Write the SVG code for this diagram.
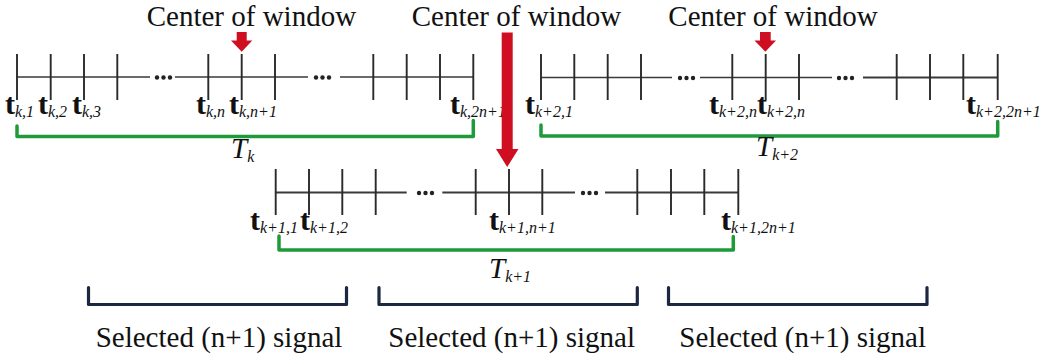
<svg xmlns="http://www.w3.org/2000/svg" width="1041" height="359" viewBox="0 0 1041 359">
  <style>
    .title { font-family: "Liberation Serif", "DejaVu Serif", serif; font-size: 29px; fill: #111; }
    .lab { font-family: "Liberation Serif", "DejaVu Serif", serif; fill: #111; }
    .tb { font-size: 30px; font-weight: bold; }
    .sub { font-size: 16px; font-style: italic; }
    .big { font-size: 29px; font-style: italic; }
    .axis { stroke: #3a3a3a; stroke-width: 1.6; fill: none; }
    .tick { stroke: #2a2a2a; stroke-width: 1.9; fill: none; }
    .dots { fill: #222; }
    .span { stroke: #1f9a38; stroke-width: 3.5; fill: none; stroke-linejoin: round; stroke-linecap: round; }
    .sel { stroke: #1c2742; stroke-width: 3.2; fill: none; stroke-linejoin: round; stroke-linecap: round; }
    .marker { fill: #cf0e22; }
  </style>

  <!-- Window T_k -->
  <g id="window-k">
    <path class="axis" d="M17,77 H150 M175,77 H308 M340,77 H473"/>
    <path class="tick" d="M17,54 V100 M50.7,54 V100 M84,54 V100 M117.3,54 V100 M208.3,54 V100 M241.7,54 V100 M275,54 V100 M373.3,54 V100 M406.7,54 V100 M440,54 V100 M473.3,54 V100"/>
    <g class="dots">
      <circle cx="157" cy="77.5" r="2.2"/><circle cx="163.5" cy="77.5" r="2.2"/><circle cx="170" cy="77.5" r="2.2"/>
      <circle cx="316" cy="77.5" r="2.2"/><circle cx="322.5" cy="77.5" r="2.2"/><circle cx="329" cy="77.5" r="2.2"/>
    </g>
    <text class="lab" x="5" y="114"><tspan class="tb">t</tspan><tspan class="sub" dy="3">k,1</tspan></text>
    <text class="lab" x="38" y="114"><tspan class="tb">t</tspan><tspan class="sub" dy="3">k,2</tspan></text>
    <text class="lab" x="72" y="114"><tspan class="tb">t</tspan><tspan class="sub" dy="3">k,3</tspan></text>
    <text class="lab" x="196" y="114"><tspan class="tb">t</tspan><tspan class="sub" dy="3">k,n</tspan></text>
    <text class="lab" x="229" y="114"><tspan class="tb">t</tspan><tspan class="sub" dy="3">k,n+1</tspan></text>
    <text class="lab" x="450" y="114"><tspan class="tb">t</tspan><tspan class="sub" dy="3">k,2n+1</tspan></text>
    <path class="span" d="M17,126 V136.5 H473.3 V120.5"/>
    <text class="lab" x="231" y="158"><tspan class="big">T</tspan><tspan class="sub" dy="4">k</tspan></text>
  </g>

  <!-- Window T_k+2 -->
  <g id="window-k2">
    <path class="axis" d="M541,77.5 H672 M700,77.5 H832"/>
    <path class="axis" style="stroke-width:2.2" d="M863,77.5 H997.7"/>
    <path class="tick" d="M541,54 V100 M574.3,54 V100 M607.7,54 V100 M641,54 V100 M732.3,54 V100 M765.7,54 V100 M799,54 V100 M896.7,54 V100 M930,54 V100 M963.3,54 V100 M997.7,54 V100"/>
    <g class="dots">
      <circle cx="680" cy="78" r="2.2"/><circle cx="686.5" cy="78" r="2.2"/><circle cx="693" cy="78" r="2.2"/>
      <circle cx="839" cy="78" r="2.2"/><circle cx="845.5" cy="78" r="2.2"/><circle cx="852" cy="78" r="2.2"/>
    </g>
    <text class="lab" x="525" y="114"><tspan class="tb">t</tspan><tspan class="sub" dy="3">k+2,1</tspan></text>
    <text class="lab" x="709" y="114"><tspan class="tb">t</tspan><tspan class="sub" dy="3">k+2,n</tspan></text>
    <text class="lab" x="757" y="114"><tspan class="tb">t</tspan><tspan class="sub" dy="3">k+2,n</tspan></text>
    <text class="lab" x="966" y="114"><tspan class="tb">t</tspan><tspan class="sub" dy="3">k+2,2n+1</tspan></text>
    <path class="span" d="M541,125 V136 H997.7 V121.5"/>
    <text class="lab" x="756" y="156"><tspan class="big">T</tspan><tspan class="sub" dy="4">k+2</tspan></text>
  </g>

  <!-- Window T_k+1 -->
  <g id="window-k1">
    <path class="axis" style="stroke-width:2" d="M275.7,192.5 H406.7 M442.3,192.5 H575 M605,192.5 H738.3"/>
    <path class="tick" d="M275.7,169 V215 M309,169 V215 M342.3,169 V215 M375.7,169 V215 M475.7,169 V215 M509,169 V215 M542.3,169 V215 M637.3,169 V215 M671,169 V215 M704.3,169 V215 M738.3,169 V215"/>
    <g class="dots">
      <circle cx="419" cy="193" r="2.2"/><circle cx="425.5" cy="193" r="2.2"/><circle cx="432" cy="193" r="2.2"/>
      <circle cx="583" cy="193" r="2.2"/><circle cx="589.5" cy="193" r="2.2"/><circle cx="596" cy="193" r="2.2"/>
    </g>
    <text class="lab" x="250" y="230"><tspan class="tb">t</tspan><tspan class="sub" dy="3">k+1,1</tspan></text>
    <text class="lab" x="300" y="230"><tspan class="tb">t</tspan><tspan class="sub" dy="3">k+1,2</tspan></text>
    <text class="lab" x="489" y="230"><tspan class="tb">t</tspan><tspan class="sub" dy="3">k+1,n+1</tspan></text>
    <text class="lab" x="721" y="230"><tspan class="tb">t</tspan><tspan class="sub" dy="3">k+1,2n+1</tspan></text>
    <path class="span" d="M279,236 V250 H733.3 V236.5"/>
    <text class="lab" x="489" y="278"><tspan class="big">T</tspan><tspan class="sub" dy="4">k+1</tspan></text>
  </g>

  <!-- Centre markers and their captions -->
  <g id="centers">
    <text class="title" x="146.7" y="26">Center of window</text>
    <text class="title" x="411.7" y="26">Center of window</text>
    <text class="title" x="668.3" y="26">Center of window</text>
    <path class="marker" d="M236.7,32 H246.7 V40.5 H252.3 L241.7,51.7 L231,40.5 H236.7 Z"/>
    <path class="marker" d="M760,32 H770.7 V40.5 H776 L765.3,51.7 L754.5,40.5 H760 Z"/>
    <path class="marker" d="M501.7,32.5 H512.7 V149 H518.5 L507.2,167 L496,149 H501.7 Z"/>
  </g>

  <!-- Selected-signal brackets -->
  <g id="selections">
    <path class="sel" d="M88.5,287.5 V304.5 H346.5 V287.5"/>
    <path class="sel" d="M379,287.5 V304.5 H637.3 V287.5"/>
    <path class="sel" d="M668.5,287.5 V304.5 H927 V287.5"/>
    <text class="title" x="95.7" y="347">Selected (n+1) signal</text>
    <text class="title" x="388.3" y="347">Selected (n+1) signal</text>
    <text class="title" x="679.3" y="347">Selected (n+1) signal</text>
  </g>
</svg>
